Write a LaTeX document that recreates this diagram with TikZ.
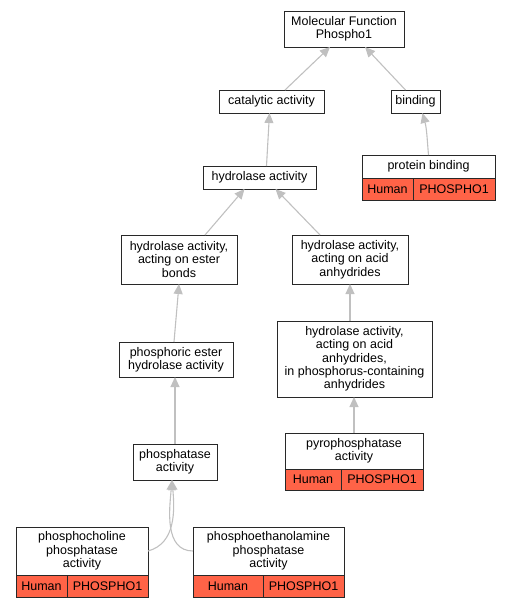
\documentclass[tikz,border=0pt]{standalone}
\usepackage{fontspec}
\setmainfont{Liberation Sans}
\usetikzlibrary{positioning,arrows.meta}
\definecolor{genered}{RGB}{255,99,71}
\definecolor{edgegray}{RGB}{192,192,192}
\definecolor{boxline}{RGB}{40,40,40}
\tikzset{
goterm/.style={draw=boxline,line width=1pt,fill=white,align=center,inner sep=1pt,outer sep=0pt,
font=\fontsize{12.5}{13.3}\selectfont},
genecell/.style={draw=boxline,line width=1pt,fill=genered,inner sep=1pt,outer sep=0pt,
minimum height=22pt,font=\fontsize{12.5}{13.3}\selectfont},
isa/.style={-{Triangle[length=10pt,width=9pt]},line width=1.1pt,edgegray}
}

\begin{document}
\begin{tikzpicture}[x=1pt,y=-1pt]
\useasboundingbox (0,0) rectangle (509,608);
% GO terms
\node[goterm,minimum width=120,minimum height=36] (mf) at (344,29) {Molecular Function\\Phospho1};
\node[goterm,minimum width=105,minimum height=23] (cat) at (271.5,101.5) {catalytic activity};
\node[goterm,minimum width=49,minimum height=23] (bind) at (415.5,101.5) {binding};
\node[goterm,minimum width=133,minimum height=23] (pb) at (428.5,166.5) {protein binding};
\node[goterm,minimum width=113,minimum height=23] (hyd) at (259.5,177.5) {hydrolase activity};
\node[goterm,minimum width=116,minimum height=49] (ester) at (179,259.5) {hydrolase activity,\\acting on ester\\bonds};
\node[goterm,minimum width=116,minimum height=49] (anh) at (350,259.5) {hydrolase activity,\\acting on acid\\anhydrides};
\node[goterm,minimum width=114,minimum height=35] (phe) at (176,359.5) {phosphoric ester\\hydrolase activity};
\node[goterm,minimum width=155,minimum height=76] (pca) at (354.5,359) {hydrolase activity,\\acting on acid\\anhydrides,\\in phosphorus-containing\\anhydrides};
\node[goterm,minimum width=138,minimum height=36] (pyro) at (354,451) {pyrophosphatase\\activity};
\node[goterm,minimum width=84,minimum height=36] (pase) at (175,462) {phosphatase\\activity};
\node[goterm,minimum width=132,minimum height=48] (pcho) at (82,551) {phosphocholine\\phosphatase\\activity};
\node[goterm,minimum width=151,minimum height=48] (peth) at (268.5,551) {phosphoethanolamine\\phosphatase\\activity};

% gene annotations
\node[genecell,minimum width=51,anchor=north west] (pbh) at (pb.south west) {Human};
\node[genecell,minimum width=82,right=0pt of pbh] (pbg) {PHOSPHO1};
\node[genecell,minimum width=56,minimum height=21,anchor=north west] (pyroh) at (pyro.south west) {Human};
\node[genecell,minimum width=82,minimum height=21,right=0pt of pyroh] (pyrog) {PHOSPHO1};
\node[genecell,minimum width=51,anchor=north west] (pchoh) at (pcho.south west) {Human};
\node[genecell,minimum width=81,right=0pt of pchoh] (pchog) {PHOSPHO1};
\node[genecell,minimum width=70,anchor=north west] (pethh) at (peth.south west) {Human};
\node[genecell,minimum width=81,right=0pt of pethh] (pethg) {PHOSPHO1};

% is_a edges
\draw[isa] ([xshift=13.5pt]cat.north) -- ([xshift=-14pt]mf.south);
\draw[isa] ([xshift=-10pt]bind.north) -- ([xshift=21pt]mf.south);
\draw[isa] (pb.north) to[out=95,in=-75] ([xshift=7pt]bind.south);
\draw[isa] ([xshift=7pt]hyd.north) -- ([xshift=-2pt]cat.south);
\draw[isa] ([xshift=26pt]ester.north) -- ([xshift=-15pt]hyd.south);
\draw[isa] ([xshift=-30pt]anh.north) -- ([xshift=16pt]hyd.south);
\draw[isa] ([xshift=-2pt]phe.north) -- (ester.south);
\draw[isa] ([xshift=-4.5pt]pca.north) -- (anh.south);
\draw[isa] (pase.north) -- ([xshift=-1pt]phe.south);
\draw[isa] (pyro.north) -- ([xshift=-0.5pt]pca.south);
\draw[isa] (pcho.east) to[out=15,in=-85] ([xshift=-3pt]pase.south);
\draw[isa] (peth.west) to[out=180,in=-95] ([xshift=-3pt]pase.south);
\end{tikzpicture}
\end{document}
